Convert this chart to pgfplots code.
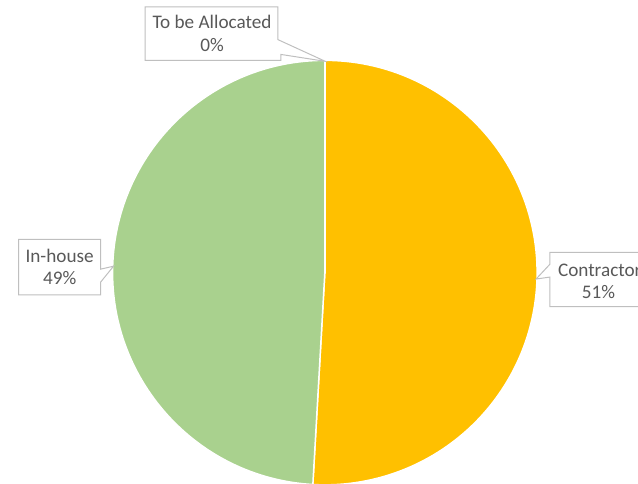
\documentclass[border=0pt]{standalone}
\usepackage{pgfplots}
\usepackage{pgfplotstable}
\pgfplotsset{compat=1.18}
\usepackage{fontspec}
\setmainfont{Carlito}
\definecolor{cgreen}{HTML}{A9D18E}
\definecolor{cyellow}{HTML}{FFC000}
\definecolor{ctext}{HTML}{595959}
\definecolor{cbox}{HTML}{BFBFBF}
\pgfplotstableread{
label share
Contractor 50.9
In-house 49.1
Allocated 0.0
}\piedata
\begin{document}
\pgfplotstablegetelem{0}{share}\of\piedata \let\sA\pgfplotsretval
\pgfplotstablegetelem{1}{share}\of\piedata \let\sB\pgfplotsretval
\pgfplotstablegetelem{2}{share}\of\piedata \let\sC\pgfplotsretval
\pgfmathsetmacro\aA{90-3.6*\sA}
\pgfmathsetmacro\aB{\aA-3.6*\sB}
\pgfmathsetmacro\aC{\aB-3.6*\sC}
\begin{tikzpicture}[font=\fontsize{19.4}{23}\selectfont]
\begin{axis}[name=ax, at={(0pt,0pt)}, anchor=south west, scale only axis, width=638pt, height=489pt,
  xmin=0, xmax=638, ymin=0, ymax=489, y dir=reverse, hide axis, clip=false]
\filldraw[fill=cyellow, draw=white, line width=1.5pt, line join=round]
  (axis cs:321.5,275.5) -- ++(90:214.5pt) arc[start angle=90, end angle=\aA, radius=214.5pt] -- cycle;
\filldraw[fill=cgreen, draw=white, line width=1.5pt, line join=round]
  (axis cs:321.5,275.5) -- ++(\aA:214.5pt) arc[start angle=\aA, end angle=\aB, radius=214.5pt] -- cycle;
\draw[white, line width=1.5pt] (axis cs:321.5,275.5) -- ++(\aC:214.5pt);
% callouts
\draw[cbox, fill=white, line width=1pt, line join=miter]
  (axis cs:140,7) -- (axis cs:274,7) -- (axis cs:274,40) -- (axis cs:322,62) -- (axis cs:277,55) -- (axis cs:277,61) -- (axis cs:140,61) -- cycle;
\draw[cbox, fill=white, line width=1pt]
  (axis cs:12,242) -- (axis cs:95,242) -- (axis cs:95,272) -- (axis cs:108,269) -- (axis cs:95,285) -- (axis cs:95,298) -- (axis cs:12,298) -- cycle;
\draw[cbox, fill=white, line width=1pt]
  (axis cs:549,255) -- (axis cs:680,255) -- (axis cs:680,310) -- (axis cs:549,310) -- (axis cs:549,280) -- (axis cs:535,282) -- (axis cs:549,267) -- cycle;
\node[ctext, anchor=base, inner sep=0pt] at (axis cs:207.5,29) {To be Allocated};
\node[ctext, anchor=base, inner sep=0pt] at (axis cs:207.5,52) {0\%};
\node[ctext, anchor=base, inner sep=0pt] at (axis cs:53.5,265) {In-house};
\node[ctext, anchor=base, inner sep=0pt] at (axis cs:53.5,288) {49\%};
\node[ctext, anchor=base west, inner sep=0pt] at (axis cs:557,279) {Contractor};
\node[ctext, anchor=base, inner sep=0pt] at (axis cs:598,302) {51\%};
\end{axis}
\pgfresetboundingbox
\useasboundingbox (0pt,0pt) rectangle (638pt,489pt);
\end{tikzpicture}
\end{document}
